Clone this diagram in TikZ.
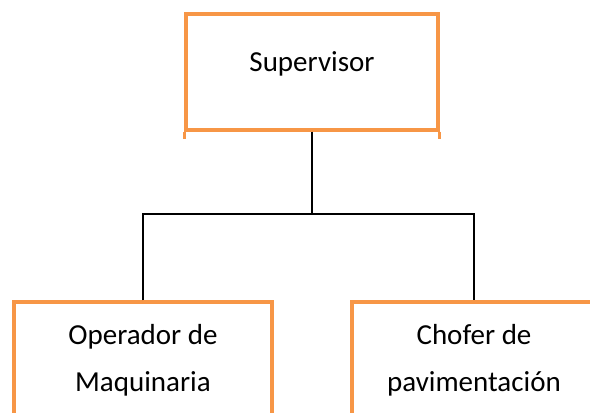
\documentclass[tikz,border=0pt]{standalone}
\usepackage{fontspec}
\setmainfont{Carlito}
\usetikzlibrary{positioning}
\definecolor{boxorange}{HTML}{F79646}

\begin{document}
\begin{tikzpicture}
		[x=0.75pt,y=0.75pt,
		role box/.style={draw=boxorange,line width=2.6pt,fill=white,align=center,
			font=\fontsize{21.75pt}{35.25pt}\selectfont,inner sep=0pt},
		link/.style={draw=black,line width=2pt}]
		\useasboundingbox (0,0) rectangle (590,413);
		\clip (0,0) rectangle (590,413);
		
		\node[role box,minimum width=189pt,minimum height=87pt,
		text height=0.75em,text depth=0.75em] (sup) at (312,341) {Supervisor};
		\node[role box,minimum width=193.5pt,minimum height=87pt] (op) at (143,53) {Operador de\\Maquinaria};
		\node[role box,minimum width=183pt,minimum height=87pt] (chof) at (474,53) {Chofer de\\pavimentación};
		
		\draw[boxorange,line width=2.6pt] (sup.south west) -- ++(0,-7);
		\draw[boxorange,line width=2.6pt] (sup.south east) -- ++(0,-7);
		
		\coordinate (bus) at (312,199);
		\draw[link] (sup) -- (bus);
		\draw[link] (op) |- (bus) -| (chof);
		\end{tikzpicture}
\end{document}
